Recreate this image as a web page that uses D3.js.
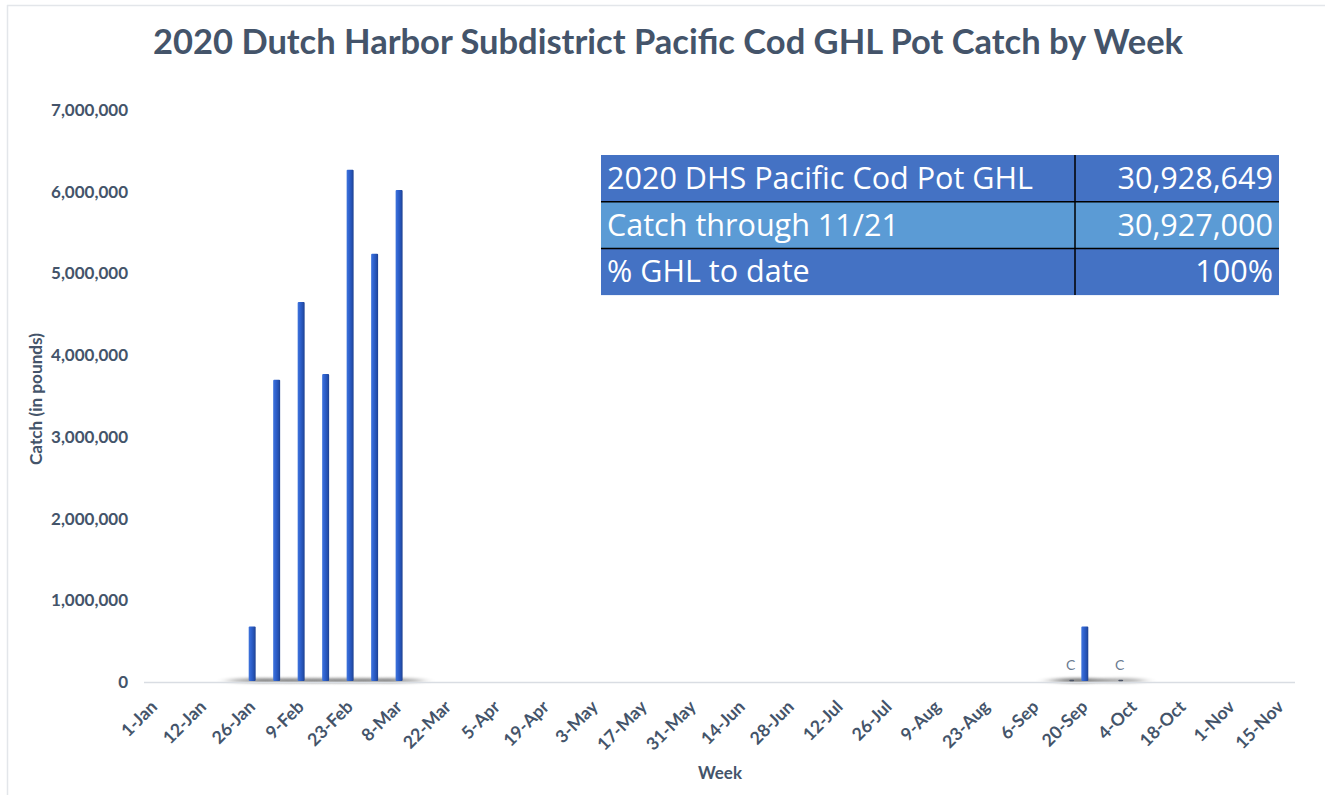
<!DOCTYPE html>
<html>
<head>
<meta charset="utf-8">
<script src="https://cdn.jsdelivr.net/npm/d3@7"></script>
<style>
  html, body { margin: 0; padding: 0; background: #fff; }
  svg { display: block; }
</style>
</head>
<body>
<svg id="chart" width="1325" height="795"></svg>
<script>
// ---------------- DATA ----------------
const weeks = ["1-Jan","5-Jan","12-Jan","19-Jan","26-Jan","2-Feb","9-Feb","16-Feb","23-Feb","1-Mar",
  "8-Mar","15-Mar","22-Mar","29-Mar","5-Apr","12-Apr","19-Apr","26-Apr","3-May","10-May",
  "17-May","24-May","31-May","7-Jun","14-Jun","21-Jun","28-Jun","5-Jul","12-Jul","19-Jul",
  "26-Jul","2-Aug","9-Aug","16-Aug","23-Aug","30-Aug","6-Sep","13-Sep","20-Sep","27-Sep",
  "4-Oct","11-Oct","18-Oct","25-Oct","1-Nov","8-Nov","15-Nov"];
const catchLbs = [0,0,0,0,680000,3700000,4650000,3770000,6270000,5240000,
  6020000,0,0,0,0,0,0,0,0,0,
  0,0,0,0,0,0,0,0,0,0,
  0,0,0,0,0,0,0,0,680000,0,
  0,0,0,0,0,0,0];
// confidential weeks (shown as "C")
const confWeeks = ["13-Sep","27-Sep"];
const confLbs = [15000, 15000];
const tickLabels = ["1-Jan","12-Jan","26-Jan","9-Feb","23-Feb","8-Mar","22-Mar","5-Apr","19-Apr","3-May",
  "17-May","31-May","14-Jun","28-Jun","12-Jul","26-Jul","9-Aug","23-Aug","6-Sep","20-Sep",
  "4-Oct","18-Oct","1-Nov","15-Nov"];
const yTicks = [0,1000000,2000000,3000000,4000000,5000000,6000000,7000000];
const tableRows = [
  ["2020 DHS Pacific Cod Pot GHL", "30,928,649"],
  ["Catch through 11/21", "30,927,000"],
  ["% GHL to date", "100%"]
];
const titleText = "2020 Dutch Harbor Subdistrict Pacific Cod GHL Pot Catch by Week";

// ---------------- CHART ----------------
const svg = d3.select("#chart");
const textColor = "#44546A";
const font = "Lato, 'Open Sans', sans-serif";

function fitWidth(sel, w) {
  const n = sel.node();
  const fs = parseFloat(sel.attr("font-size"));
  const cur = n.getComputedTextLength();
  const nf = fs * w / cur;
  sel.attr("font-size", nf.toFixed(2));
  return nf;
}

// frame
svg.append("line").attr("x1", 7).attr("x2", 1325).attr("y1", 5.5).attr("y2", 5.5)
  .attr("stroke", "#e3e6ea").attr("stroke-width", 1.5);
svg.append("line").attr("x1", 7.5).attr("x2", 7.5).attr("y1", 5).attr("y2", 795)
  .attr("stroke", "#e3e6ea").attr("stroke-width", 1.5);

const defs = svg.append("defs");
const grad = defs.append("linearGradient").attr("id", "barGrad")
  .attr("x1", "0%").attr("x2", "100%").attr("y1", "0%").attr("y2", "0%");
grad.append("stop").attr("offset", "0%").attr("stop-color", "#3f74dc");
grad.append("stop").attr("offset", "35%").attr("stop-color", "#2f62cf");
grad.append("stop").attr("offset", "75%").attr("stop-color", "#2450b0");
grad.append("stop").attr("offset", "100%").attr("stop-color", "#1c3f8e");
defs.append("filter").attr("id", "blur").attr("x", "-50%").attr("y", "-300%").attr("width", "200%").attr("height", "700%")
  .append("feGaussianBlur").attr("stdDeviation", "7 1.8");

// title
const title = svg.append("text").attr("x", 668).attr("y", 54)
  .attr("text-anchor", "middle").attr("font-family", font).attr("font-weight", 700)
  .attr("font-size", 31).attr("fill", textColor).text(titleText);
fitWidth(title, 1030);

const x = d3.scaleBand().domain(weeks).range([144, 1295]).padding(0);
const bw = x.bandwidth();
const x1 = d3.scaleBand().domain(["catch", "conf"]).range([bw * 0.275, bw * 1.025]).paddingInner(0.39);
const y = d3.scaleLinear().domain([0, 7000000]).range([682, 110]);

// y axis
const yAxis = svg.append("g").attr("transform", "translate(128,0)")
  .call(d3.axisLeft(y).tickValues(yTicks).tickFormat(d3.format(",")).tickSize(0).tickPadding(0));
yAxis.select(".domain").remove();
const yTxt = yAxis.selectAll("text").attr("font-family", font).attr("font-weight", 700)
  .attr("font-size", 14.5).attr("fill", textColor);
const topTick = yTxt.filter(d => d === 7000000);
const yfs = fitWidth(topTick, 77);
yTxt.attr("font-size", yfs.toFixed(2));

const mainData = weeks.map((w, i) => ({ w, v: catchLbs[i], s: "catch" })).filter(d => d.v > 0);
const confData = confWeeks.map((w, i) => ({ w, v: confLbs[i], s: "conf" }));
const allData = mainData.concat(confData);

// shadows
svg.append("g").selectAll("ellipse")
  .data(allData)
  .join("ellipse")
  .attr("cx", d => x(d.w) + x1(d.s) + x1.bandwidth() / 2)
  .attr("cy", 680.5)
  .attr("rx", 24).attr("ry", 2.5)
  .attr("fill", "#000").attr("opacity", 0.3)
  .attr("filter", "url(#blur)");

// axis line
svg.append("line").attr("x1", 144).attr("x2", 1295).attr("y1", 682.5).attr("y2", 682.5)
  .attr("stroke", "#d9dde3").attr("stroke-width", 1.5);

// bars
svg.append("g").selectAll("rect")
  .data(allData)
  .join("rect")
  .attr("x", d => x(d.w) + x1(d.s) + (d.s === "conf" ? 1 : 0))
  .attr("y", d => y(d.v) - (d.s === "conf" ? 1 : 0))
  .attr("width", d => d.s === "conf" ? x1.bandwidth() - 2 : x1.bandwidth())
  .attr("height", d => Math.max(1.5, y(0) - y(d.v) - 1))
  .attr("rx", 1)
  .attr("fill", d => d.s === "conf" ? "#4d5566" : "url(#barGrad)");

// confidential labels
svg.append("g").selectAll("text")
  .data(confData)
  .join("text")
  .attr("x", d => x(d.w) + x1(d.s) + x1.bandwidth() / 2 - 1)
  .attr("y", 669.5)
  .attr("text-anchor", "middle")
  .attr("font-family", font).attr("font-size", 14).attr("fill", "#6b7a90")
  .text("C");

// x axis labels
const xAxis = svg.append("g").attr("transform", "translate(2,708)")
  .call(d3.axisBottom(x).tickValues(tickLabels).tickSize(0).tickPadding(0));
xAxis.select(".domain").remove();
const xTxt = xAxis.selectAll("text")
  .attr("font-family", font).attr("font-weight", 700).attr("font-size", 13)
  .attr("fill", textColor)
  .attr("text-anchor", "end")
  .attr("dy", "0")
  .attr("y", 0)
  .attr("transform", "rotate(-45)");
const refLbl = xTxt.filter(d => d === "22-Mar");
const xfs = fitWidth(refLbl, 59);
xTxt.attr("font-size", xfs.toFixed(2));

// axis titles
const wk = svg.append("text").attr("x", 720).attr("y", 779).attr("text-anchor", "middle")
  .attr("font-family", font).attr("font-weight", 700).attr("font-size", 15)
  .attr("fill", textColor).text("Week");
fitWidth(wk, 44);
const yt = svg.append("text").attr("transform", "translate(42,399) rotate(-90)").attr("text-anchor", "middle")
  .attr("font-family", font).attr("font-weight", 700).attr("font-size", 14)
  .attr("fill", textColor).text("Catch (in pounds)");
fitWidth(yt, 132);

// table
const tX0 = 601, tX1 = 1279, tDiv = 1075, tY0 = 155, rowH = 46.7;
const rowColors = ["#4472C4", "#5B9BD5", "#4472C4"];
const table = svg.append("g");
tableRows.forEach((r, i) => {
  const yy = tY0 + i * rowH;
  table.append("rect").attr("x", tX0).attr("y", yy).attr("width", tX1 - tX0).attr("height", rowH)
    .attr("fill", rowColors[i]);
  table.append("text").attr("x", 607).attr("y", yy + rowH / 2 + 10.5)
    .attr("font-family", "'Open Sans', sans-serif").attr("font-size", 28).attr("fill", "#fff").text(r[0]);
  table.append("text").attr("x", 1273).attr("y", yy + rowH / 2 + 10.5).attr("text-anchor", "end")
    .attr("font-family", "'Open Sans', sans-serif").attr("font-size", 28).attr("fill", "#fff").text(r[1]);
});
const t0 = table.selectAll("text").nodes()[0];
const scaleF = 426 / t0.getComputedTextLength();
table.selectAll("text").attr("font-size", (28 * scaleF).toFixed(2));
[1, 2].forEach(i => {
  table.append("line").attr("x1", tX0).attr("x2", tX1)
    .attr("y1", tY0 + i * rowH).attr("y2", tY0 + i * rowH)
    .attr("stroke", "#000").attr("stroke-width", 1.5);
});
table.append("line").attr("x1", tDiv).attr("x2", tDiv).attr("y1", tY0).attr("y2", tY0 + 3 * rowH)
  .attr("stroke", "#000").attr("stroke-width", 1.5);
</script>
</body>
</html>
